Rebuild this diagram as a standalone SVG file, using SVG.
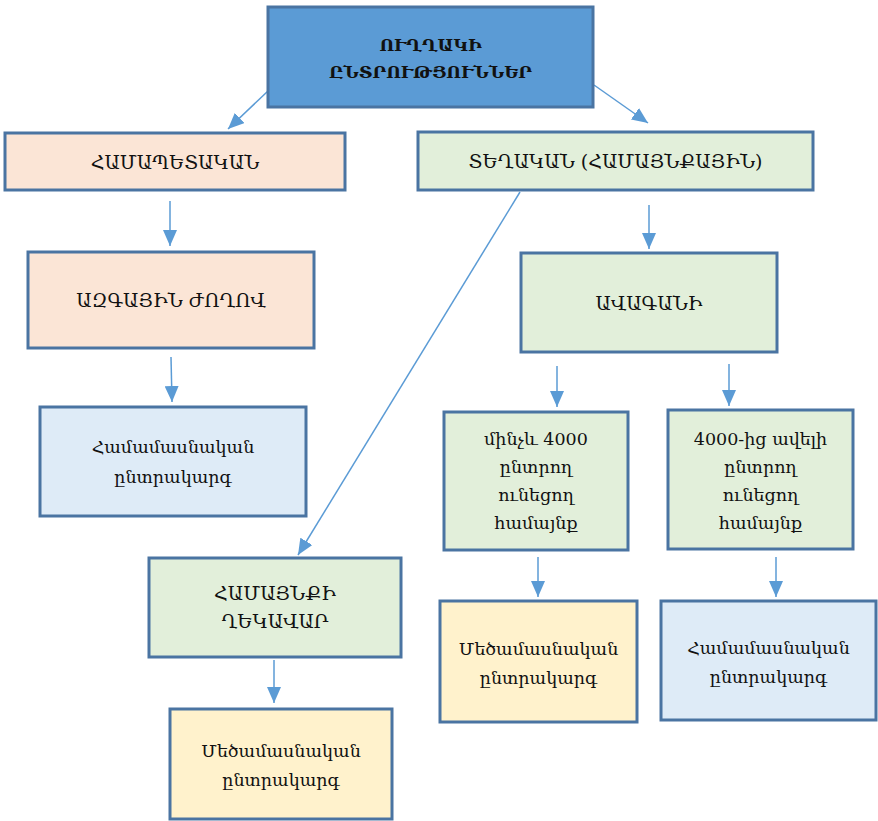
<svg xmlns="http://www.w3.org/2000/svg" width="878" height="821" viewBox="0 0 878 821">
<defs>
<marker id="ah" markerUnits="userSpaceOnUse" markerWidth="18" markerHeight="14" refX="16" refY="7" orient="auto">
<path d="M0,0 L16,7 L0,14 Z" fill="#5b9bd5"/>
</marker>
<style>
.box{stroke:#4a74a2;stroke-width:3}
.blue{fill:#5b9bd5}
.peach{fill:#fbe5d6}
.green{fill:#e2efda}
.lblue{fill:#deebf7}
.yel{fill:#fff2cc}
text{font-family:"DejaVu Serif","Liberation Serif",serif;fill:#111;text-anchor:middle;dominant-baseline:central}
.cap{font-size:19px}
.low{font-size:17.5px}
.title{font-size:17px;font-weight:bold}
.con line{stroke:#5b9bd5;stroke-width:1.5;marker-end:url(#ah)}
</style>
</defs>
<g class="con">
<line x1="268" y1="91" x2="228" y2="129"/>
<line x1="594" y1="85" x2="648" y2="123"/>
<line x1="170" y1="201" x2="170" y2="246"/>
<line x1="649" y1="205" x2="649" y2="249"/>
<line x1="171" y1="357" x2="172" y2="402"/>
<line x1="557" y1="366" x2="557" y2="407"/>
<line x1="729" y1="364" x2="729" y2="406"/>
<line x1="520" y1="192" x2="298" y2="555"/>
<line x1="538" y1="557" x2="538" y2="597"/>
<line x1="776" y1="557" x2="776" y2="597"/>
<line x1="274" y1="660" x2="274" y2="703"/>
</g>
<g id="n-title"><rect class="box blue" x="268" y="7" width="325" height="100"/>
<text class="title" x="430.5" y="45">ՈՒՂՂԱԿԻ</text><text class="title" x="430.5" y="72">ԸՆՏՐՈՒԹՅՈՒՆՆԵՐ</text></g>
<g id="n-hamapetakan"><rect class="box peach" x="5" y="133" width="340" height="57"/>
<text class="cap" x="175" y="162">ՀԱՄԱՊԵՏԱԿԱՆ</text></g>
<g id="n-teghakan"><rect class="box green" x="418" y="132" width="395" height="58"/>
<text class="cap" x="615.5" y="161">ՏԵՂԱԿԱՆ (ՀԱՄԱՅՆՔԱՅԻՆ)</text></g>
<g id="n-azgayin"><rect class="box peach" x="28" y="252" width="286" height="96"/>
<text class="cap" x="171" y="300">ԱԶԳԱՅԻՆ ԺՈՂՈՎ</text></g>
<g id="n-hamam1"><rect class="box lblue" x="40" y="407" width="266" height="109"/>
<text class="low" x="173" y="447">Համամասնական</text><text class="low" x="173" y="477">ընտրակարգ</text></g>
<g id="n-avagani"><rect class="box green" x="521" y="253" width="256" height="99"/>
<text class="cap" x="649" y="303">ԱՎԱԳԱՆԻ</text></g>
<g id="n-minchev"><rect class="box green" x="444" y="412" width="184" height="138"/>
<text class="low" x="536" y="439">մինչև 4000</text><text class="low" x="536" y="467">ընտրող</text><text class="low" x="536" y="495">ունեցող</text><text class="low" x="536" y="523">համայնք</text></g>
<g id="n-aveli"><rect class="box green" x="668" y="410" width="185" height="139"/>
<text class="low" x="760.5" y="439">4000-ից ավելի</text><text class="low" x="760.5" y="467">ընտրող</text><text class="low" x="760.5" y="495">ունեցող</text><text class="low" x="760.5" y="523">համայնք</text></g>
<g id="n-ghekavar"><rect class="box green" x="149" y="558" width="252" height="99"/>
<text class="cap" x="275" y="593">ՀԱՄԱՅՆՔԻ</text><text class="cap" x="275" y="621">ՂԵԿԱՎԱՐ</text></g>
<g id="n-mets1"><rect class="box yel" x="440" y="601" width="197" height="121"/>
<text class="low" x="538.5" y="649">Մեծամասնական</text><text class="low" x="538.5" y="678">ընտրակարգ</text></g>
<g id="n-hamam2"><rect class="box lblue" x="661" y="601" width="215" height="119"/>
<text class="low" x="768.5" y="648">Համամասնական</text><text class="low" x="768.5" y="677">ընտրակարգ</text></g>
<g id="n-mets2"><rect class="box yel" x="170" y="709" width="222" height="110"/>
<text class="low" x="281" y="751">Մեծամասնական</text><text class="low" x="281" y="780">ընտրակարգ</text></g>
</svg>
